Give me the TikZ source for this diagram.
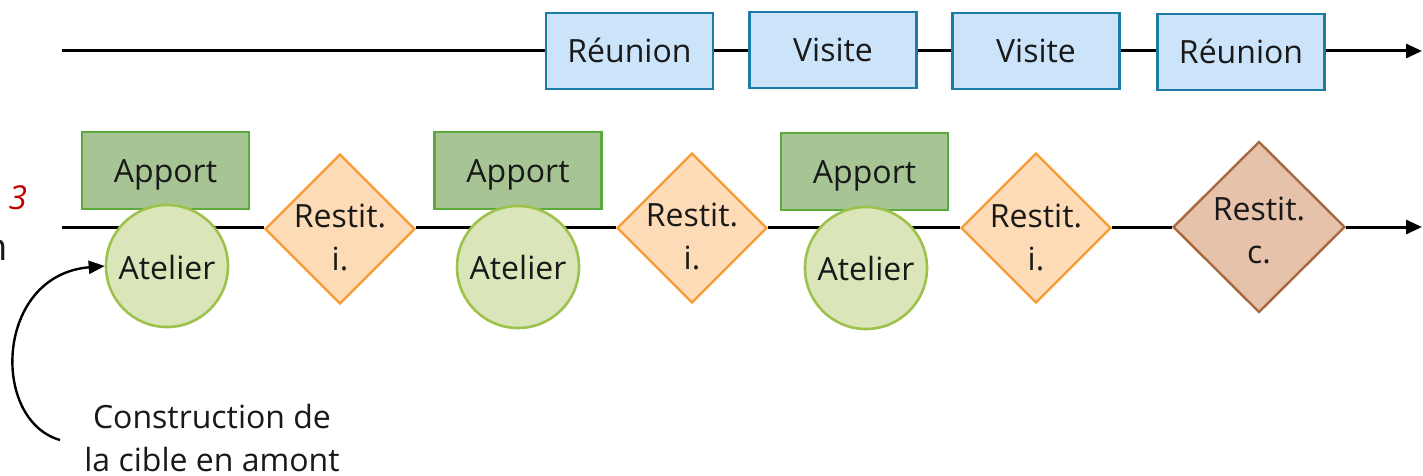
\documentclass[tikz,border=0pt]{standalone}
\usepackage{fontspec}
\setmainfont{Open Sans}
\usetikzlibrary{shapes.geometric,arrows.meta}
\pgfdeclarelayer{bg}
\pgfsetlayers{bg,main}
\definecolor{topfill}{HTML}{CCE4F9}
\definecolor{topdraw}{HTML}{1E7BA6}
\definecolor{appfill}{HTML}{A7C594}
\definecolor{appdraw}{HTML}{5BAA3E}
\definecolor{atfill}{HTML}{DAE6B9}
\definecolor{atdraw}{HTML}{9DC24C}
\definecolor{rifill}{HTML}{FEDBB7}
\definecolor{ridraw}{HTML}{F89B32}
\definecolor{rcfill}{HTML}{E6C2AB}
\definecolor{rcdraw}{HTML}{A6683C}
\definecolor{redtxt}{HTML}{C00000}
\tikzset{
  txt/.style={font=\fontsize{32}{44}\selectfont, align=center, inner sep=0pt, text=black!90},
  captxt/.style={txt, text height=23pt, text depth=0pt},
  lbl/.style={txt, anchor=base},
  topbox/.style={draw=topdraw, fill=topfill, line width=2.6pt, minimum width=167pt, minimum height=76pt, captxt},
  appbox/.style={draw=appdraw, fill=appfill, line width=2.6pt, minimum width=167pt, minimum height=77pt, captxt},
  atcirc/.style={circle, draw=atdraw, fill=atfill, line width=2.6pt, minimum size=122pt, inner sep=0pt},
  ridia/.style={diamond, draw=ridraw, fill=rifill, line width=2.4pt, minimum width=150pt, minimum height=150pt, inner sep=0pt},
  rcdia/.style={diamond, draw=rcdraw, fill=rcfill, line width=2.4pt, minimum width=172pt, minimum height=171pt, inner sep=0pt},
  tl/.style={line width=3pt, black},
  tip/.style={-{Triangle[length=16pt,width=14pt]}}
}
\begin{document}
\begin{tikzpicture}[x=1pt,y=-1pt]
\useasboundingbox (0,0) rectangle (1423,476);
% top timeline
\coordinate (s1) at (62,51);
\coordinate (e1) at (1422,51);
\node[topbox] (r1) at (629.5,51) {Réunion};
\node[topbox] (v1) at (833,50) {Visite};
\node[topbox] (v2) at (1036,51) {Visite};
\node[topbox] (r2) at (1241,52) {Réunion};
% middle timeline
\coordinate (s2) at (62,227);
\coordinate (e2) at (1422,227);
\node[appbox] (a1) at (165.5,170.5) {Apport};
\node[appbox] (a2) at (518,170.5) {Apport};
\node[appbox] (a3) at (864.5,171.5) {Apport};
\node[atcirc] (c1) at (167,266) {};
\node[atcirc] (c2) at (518,267) {};
\node[atcirc] (c3) at (866,268) {};
\node[lbl] (ct1) at (167,279) {Atelier};
\node[lbl] (ct2) at (518,279) {Atelier};
\node[lbl] (ct3) at (866,280) {Atelier};
\node[ridia] (d1) at (340,229) {};
\node[ridia] (d2) at (692,228) {};
\node[ridia] (d3) at (1036,228) {};
\node[rcdia] (d4) at (1259,227) {};
\node[lbl] (t1a) at (340,227) {Restit.};
\node[lbl] (t1b) at (340,270) {i.};
\node[lbl] (t2a) at (692,226) {Restit.};
\node[lbl] (t2b) at (692,269) {i.};
\node[lbl] (t3a) at (1036,227) {Restit.};
\node[lbl] (t3b) at (1036,270) {i.};
\node[lbl] (t4a) at (1259,220) {Restit.};
\node[lbl] (t4b) at (1259,263) {c.};
\begin{pgfonlayer}{bg}
\draw[tl] (s1) -- (r1.west |- s1);
\draw[tl] (r1.east |- s1) -- (v1.west |- s1);
\draw[tl] (v1.east |- s1) -- (v2.west |- s1);
\draw[tl] (v2.east |- s1) -- (r2.west |- s1);
\draw[tl,tip] (r2.east |- s1) -- (e1);
\draw[tl] (s2) -- (d1.west |- s2);
\draw[tl] (d1.east |- s2) -- (d2.west |- s2);
\draw[tl] (d2.east |- s2) -- (d3.west |- s2);
\draw[tl] (d3.east |- s2) -- (d4.west |- s2);
\draw[tl,tip] (d4.east |- s2) -- (e2);
\end{pgfonlayer}
% left texts
\node[lbl, text=redtxt, font=\fontsize{33}{44}\selectfont\itshape] (three) at (18,209) {3};
\node[lbl, anchor=base east, font=\fontsize{38}{44}\selectfont] (nn) at (8,260) {n};
\node[lbl] (cons1) at (212,428) {Construction de};
\node[lbl, text depth=0pt] (cons2) at (212,471) {la cible en amont};
\coordinate (cs) at (60,440);
\draw[line width=2.4pt, -{Triangle[length=16pt,width=13pt]}] (cs) .. controls (-10,420) and (-5,275) .. (c1.west);
\end{tikzpicture}
\end{document}
